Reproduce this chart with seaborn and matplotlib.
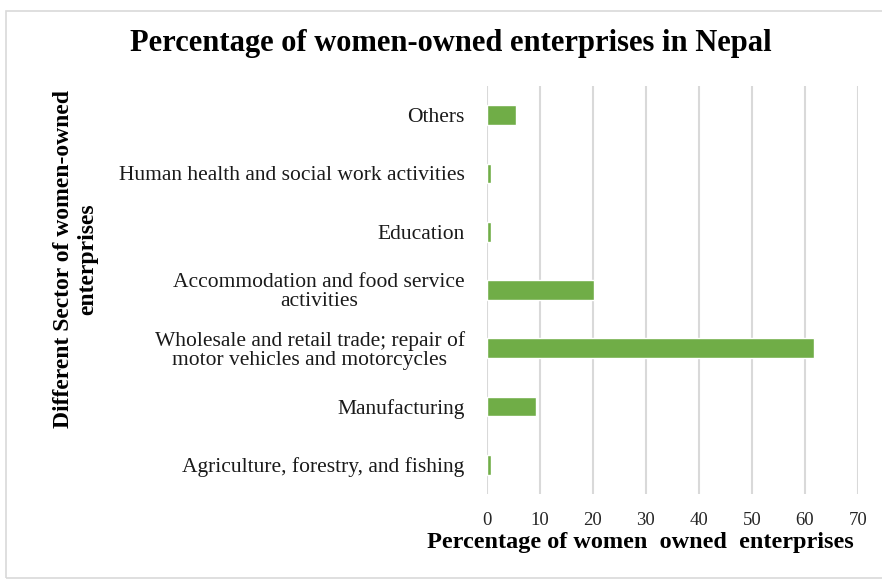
import matplotlib
matplotlib.use("Agg")
import matplotlib.pyplot as plt
import seaborn as sns
import pandas as pd
from matplotlib.patches import Rectangle

sectors = [
    "Others",
    "Human health and social work activities",
    "Education",
    "Accommodation and food service\nactivities",
    "Wholesale and retail trade; repair of\nmotor vehicles and motorcycles",
    "Manufacturing",
    "Agriculture, forestry, and fishing",
]
values = [5.5, 0.7, 0.7, 20.3, 61.8, 9.3, 0.7]
x_ticks = [0, 10, 20, 30, 40, 50, 60, 70]

df = pd.DataFrame({"sector": sectors, "value": values})

sns.set_style("white")
plt.rcParams["font.family"] = ["Liberation Serif", "DejaVu Serif"]

fig = plt.figure(figsize=(8.82, 5.83), dpi=100)
ax = fig.add_axes([0.552, 0.1527, 0.4205, 0.6998])

sns.barplot(data=df, x="value", y="sector", orient="h", color="#70AD47",
            width=0.34, saturation=1, ax=ax, order=sectors)

ax.set_xlim(0, 70)
ax.set_xticks(x_ticks)
ax.set_xticklabels([str(t) for t in x_ticks], fontsize=13.5, color="#262626")
ax.xaxis.grid(True, color="#d9d9d9", linewidth=1.5)
ax.set_axisbelow(True)
for s in ax.spines.values():
    s.set_visible(False)
ax.tick_params(axis="both", length=0)
ax.tick_params(axis="x", pad=13)
ax.tick_params(axis="y", pad=16)
for lab in ax.get_yticklabels():
    lab.set_fontsize(15.5)
    lab.set_color("#1a1a1a")
    lab.set_multialignment("center")
    lab.set_linespacing(0.95)

ax.set_xlabel("Percentage of women  owned  enterprises", fontsize=17.5,
              fontweight="bold", color="black")
ax.xaxis.label.set_horizontalalignment("left")
ax.xaxis.label.set_verticalalignment("center")
ax.xaxis.set_label_coords((427 - 487) / 370.7, (494 - 543) / 408)

ax.set_ylabel("Different Sector of women-owned\nenterprises", fontsize=17,
              fontweight="bold", color="black", linespacing=1.25)
ax.yaxis.set_label_coords((99 - 487) / 370.7, 0.575)

fig.text(0.511, 0.926, "Percentage of women-owned enterprises in Nepal",
         ha="center", va="center", fontsize=22, fontweight="bold",
         color="black")

fig.patches.append(Rectangle((6 / 882, 5 / 583), 1.0, 1 - 16 / 583,
                             transform=fig.transFigure, fill=False,
                             edgecolor="#d9d9d9", linewidth=1.2))

fig.savefig("out.png", dpi=100)
